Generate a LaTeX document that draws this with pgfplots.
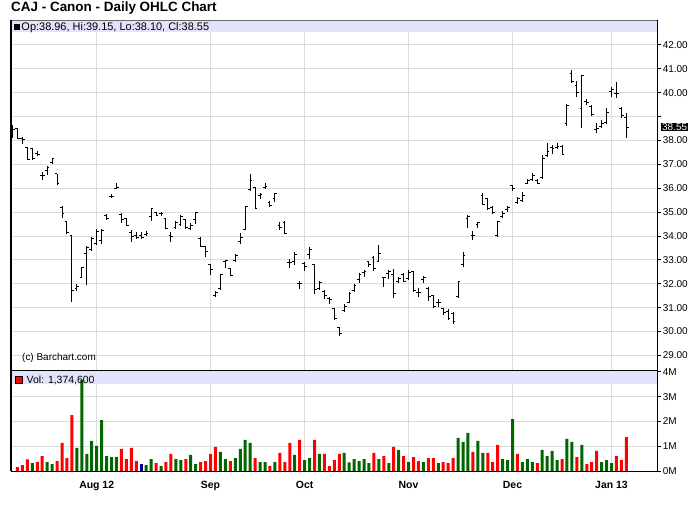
\documentclass[border=0pt]{standalone}
\usepackage{pgfplots}
\pgfplotsset{compat=1.18}
\usepackage{pgfplotstable}
\usepackage{fontspec}
\setmainfont{Liberation Sans}
\definecolor{band}{RGB}{226,226,250}
\definecolor{gridc}{RGB}{220,220,220}
\definecolor{vred}{RGB}{255,0,0}
\definecolor{vgreen}{RGB}{0,102,0}
\definecolor{vnavy}{RGB}{0,0,128}
\pgfdeclareplotmark{nothing}{}
\pgfdeclareplotmark{openL}{\pgfpathmoveto{\pgfqpoint{-2.3bp}{0pt}}\pgfpathlineto{\pgfqpoint{0pt}{0pt}}\pgfusepathqstroke}
\pgfdeclareplotmark{closeR}{\pgfpathmoveto{\pgfqpoint{0pt}{0pt}}\pgfpathlineto{\pgfqpoint{2.3bp}{0pt}}\pgfusepathqstroke}
\pgfplotstableread{
i o h l c
-17 38.62 38.64 38.09 38.47
-16 38.48 38.50 38.05 38.08
-15 38.10 38.16 37.87 38.02
-14 37.70 37.74 37.20 37.21
-13 37.67 37.70 37.20 37.24
-12 37.45 37.54 37.33 37.43
-11 36.55 36.68 36.36 36.52
-10 36.73 36.94 36.57 36.87
-9 37.07 37.28 37.03 37.24
-8 36.60 36.61 36.15 36.18
-7 35.20 35.27 34.74 34.95
-6 34.60 34.63 34.10 34.15
-5 34.00 34.03 31.25 31.70
-4 31.80 31.97 31.71 31.88
-3 32.25 32.72 32.22 32.68
-2 33.25 33.59 31.96 33.50
-1 33.45 33.97 33.38 33.90
0 33.70 34.29 33.63 34.20
1 33.80 34.29 33.67 34.25
2 34.87 34.91 34.68 34.72
3 35.65 35.75 35.57 35.67
4 36.00 36.21 35.95 36.05
5 34.90 34.98 34.56 34.70
6 34.73 34.76 34.40 34.45
7 34.15 34.26 33.76 33.98
8 34.00 34.17 33.89 33.95
9 34.02 34.17 33.89 33.95
10 34.05 34.22 33.98 34.10
11 34.82 35.16 34.63 35.15
12 35.00 35.02 34.82 34.87
13 34.95 35.00 34.82 34.95
14 34.75 34.77 34.29 34.31
15 34.00 34.15 33.76 33.98
16 34.35 34.63 34.29 34.56
17 34.50 34.87 34.43 34.82
18 34.68 34.70 34.31 34.36
19 34.30 34.54 34.26 34.45
20 34.70 35.02 34.52 35.00
21 33.90 33.94 33.52 33.55
22 33.55 33.59 33.14 33.34
23 32.80 32.82 32.37 32.60
24 31.50 31.71 31.43 31.64
25 31.80 32.40 31.75 32.38
26 32.92 32.99 32.68 32.96
27 32.65 32.68 32.31 32.33
28 32.96 33.24 32.89 33.17
29 33.76 34.11 33.67 33.95
30 34.29 35.26 34.25 35.23
31 35.93 36.60 35.88 36.32
32 36.04 36.04 35.12 35.16
33 35.70 35.81 35.56 35.72
34 36.05 36.21 35.95 36.08
35 35.41 35.48 35.20 35.26
36 35.58 35.81 35.44 35.76
37 34.42 34.57 34.25 34.36
38 34.56 34.63 34.07 34.11
39 32.90 33.05 32.68 32.90
40 32.93 33.31 32.77 33.22
41 32.02 32.13 31.79 32.02
42 32.86 32.93 32.54 32.72
43 33.21 33.55 33.05 33.44
44 32.79 32.79 31.56 31.77
45 31.81 32.12 31.72 32.07
46 31.67 31.74 31.37 31.50
47 31.39 31.46 31.14 31.33
48 30.95 30.99 30.49 30.53
49 30.15 30.20 29.82 29.90
50 30.90 31.14 30.81 31.04
51 31.22 31.67 31.18 31.60
52 31.70 31.99 31.67 31.91
53 32.16 32.47 32.05 32.40
54 32.48 32.58 32.30 32.51
55 32.93 32.97 32.69 32.79
56 33.10 33.18 32.54 32.62
57 32.93 33.62 32.90 33.28
58 32.26 32.30 31.88 32.25
59 32.44 32.58 32.20 32.51
60 32.40 32.62 31.39 31.60
61 32.10 32.30 32.02 32.20
62 32.37 32.44 32.06 32.10
63 32.20 32.58 32.16 32.45
64 32.50 32.51 31.67 31.70
65 31.64 31.81 31.46 31.62
66 32.16 32.33 32.05 32.26
67 31.81 31.85 31.28 31.46
68 31.49 31.53 31.00 31.04
69 31.22 31.35 31.04 31.22
70 30.95 31.00 30.69 30.81
71 30.83 30.93 30.48 30.55
72 30.76 30.83 30.32 30.41
73 31.46 32.12 31.42 32.09
74 32.79 33.32 32.72 33.20
75 34.74 34.88 34.35 34.81
76 34.04 34.22 33.83 34.04
77 34.46 34.57 34.35 34.56
78 35.71 35.78 35.30 35.32
79 35.58 35.60 35.09 35.16
80 35.18 35.25 34.90 34.99
81 34.00 34.63 33.97 34.60
82 34.81 35.06 34.74 34.95
83 35.09 35.27 35.02 35.18
84 36.10 36.13 35.90 35.97
85 35.41 35.64 35.34 35.58
86 35.50 35.83 35.41 35.71
87 36.20 36.38 36.16 36.34
88 36.37 36.62 36.32 36.55
89 36.32 36.37 36.16 36.20
90 36.44 37.39 36.37 37.25
91 37.35 37.88 37.32 37.55
92 37.70 37.81 37.43 37.68
93 37.71 37.88 37.63 37.76
94 37.76 37.81 37.39 37.43
95 38.71 39.51 38.62 39.48
96 40.81 40.95 40.42 40.46
97 40.30 40.50 39.80 40.00
98 39.34 40.74 38.53 40.70
99 39.62 39.72 39.48 39.58
100 39.41 39.48 39.02 39.10
101 38.46 38.74 38.30 38.50
102 38.57 38.85 38.50 38.71
103 38.74 39.34 38.67 39.16
104 40.04 40.22 39.83 40.14
105 39.97 40.43 39.76 39.97
106 39.34 39.41 38.96 39.06
107 38.96 39.15 38.10 38.55
}\ohlc
\begin{document}
\begin{tikzpicture}[x=1bp,y=1bp]
\path (0,0) rectangle (700,512);
\node[anchor=base west, inner sep=0pt, font=\fontsize{13.5}{15}\selectfont\bfseries] at (11,500.6) {CAJ - Canon - Daily OHLC Chart};
% ---------------- price panel
\begin{axis}[
  at={(11bp,141.3bp)}, anchor=south west, scale only axis,
  width=646.3bp, height=350.4bp,
  xmin=-17.31, xmax=113.25, ymin=28.36, ymax=43.03,
  clip=false,
  axis line style={draw=none},
  xtick={0,23,42,63,84,104}, xticklabels={},
  xtick style={draw=none},
  ytick={29,30,31,32,33,34,35,36,37,38,39,40,41,42},
  yticklabels={29.00,30.00,31.00,32.00,33.00,34.00,35.00,36.00,37.00,38.00,,40.00,41.00,42.00},
  ytick pos=right, yticklabel pos=right, tick align=outside,
  major tick length=4bp,
  ytick style={black, line width=0.8bp},
  yticklabel style={font=\fontsize{10}{12}\selectfont, anchor=west, xshift=-2bp},
  xmajorgrids, ymajorgrids,
  grid style={gridc, line width=0.9bp},
]
\fill[band] (rel axis cs:0,0.9652) rectangle (rel axis cs:1,1);
\addplot[only marks, mark=nothing, black, line width=1bp,
  error bars/.cd, y dir=both, y explicit, error mark=none,
  error bar style={draw=black, line width=1bp}]
  table[x=i, y expr={(\thisrow{h}+\thisrow{l})/2},
        y error plus expr={(\thisrow{h}-\thisrow{l})/2},
        y error minus expr={(\thisrow{h}-\thisrow{l})/2}] {\ohlc};
\addplot[only marks, mark=openL, mark options={draw=black, line width=1bp}] table[x=i, y=o] {\ohlc};
\addplot[only marks, mark=closeR, mark options={draw=black, line width=1bp}] table[x=i, y=c] {\ohlc};
\draw[gray!80!black, line width=0.6bp] (rel axis cs:0,1) -- (rel axis cs:1,1);
\draw[black, line width=1.3bp] (rel axis cs:0,0) -- (rel axis cs:0,1);
\draw[black, line width=1bp] (rel axis cs:1,0) -- (rel axis cs:1,1);
\draw[black, line width=2bp] (rel axis cs:0,0) -- (rel axis cs:1,0);
\end{axis}
% legend of price panel
\fill[black] (13.5,481.5) rectangle (19.8,488);
\node[anchor=base west, inner sep=0pt, font=\fontsize{11}{13}\selectfont] at (21.3,481.6) {Op:38.96, Hi:39.15, Lo:38.10, Cl:38.55};
\node[anchor=base west, inner sep=0pt, font=\fontsize{10}{12}\selectfont] at (22,151.8) {(c) Barchart.com};
\node[anchor=west, fill=black, text=white, inner xsep=0.8bp, inner ysep=0.6bp, font=\fontsize{10}{12}\selectfont] at (661.2,384.8) {38.55};
% ---------------- volume panel
\begin{axis}[
  at={(11bp,40.7bp)}, anchor=south west, scale only axis,
  width=646.3bp, height=100.6bp,
  xmin=-17.31, xmax=113.25, ymin=0, ymax=4.04,
  clip=false,
  axis line style={draw=none},
  xtick={0,23,42,63,84,104},
  xticklabels={Aug 12,Sep,Oct,Nov,Dec,Jan 13},
  xtick style={draw=none},
  xticklabel style={font=\fontsize{10.5}{12}\selectfont\bfseries, yshift=-2bp},
  ytick={0,1,2,3,4}, yticklabels={0M,1M,2M,3M,4M},
  ytick pos=right, yticklabel pos=right, tick align=outside,
  major tick length=4bp,
  ytick style={black, line width=0.8bp},
  yticklabel style={font=\fontsize{10}{12}\selectfont, anchor=west, xshift=-2bp},
  xmajorgrids, ymajorgrids,
  grid style={gridc, line width=0.9bp},
]
\fill[band] (rel axis cs:0,0.8678) rectangle (rel axis cs:1,1);
\addplot[ybar, bar width=3bp, bar shift=0pt, fill=vred, draw=none] coordinates {
(-16,0.17) (-15,0.25) (-14,0.48) (-12,0.37) (-11,0.61) (-8,0.41) (-7,1.14) (-6,0.53) (-5,2.26)
(5,0.90) (6,0.49) (7,0.94) (8,0.41) (12,0.33) (14,0.37) (15,0.70) (18,0.49) (21,0.37) (22,0.41)
(23,0.70) (24,0.98) (27,0.41) (32,0.53) (35,0.21) (37,0.74) (38,0.37) (39,1.14) (41,1.26) (44,1.26)
(46,0.70) (47,0.21) (48,0.45) (49,0.70) (56,0.74) (58,0.61) (60,0.98) (62,0.61) (64,0.57) (65,0.41)
(67,0.53) (68,0.53) (70,0.37) (71,0.33) (72,0.53) (76,0.78) (79,0.74) (80,0.37) (81,1.06) (85,0.70)
(89,0.33) (94,0.49) (97,0.57) (99,0.29) (100,0.37) (101,0.82) (105,0.61) (106,0.45) (107,1.3746)};
\addplot[ybar, bar width=3bp, bar shift=0pt, fill=vgreen, draw=none] coordinates {
(-13,0.33) (-10,0.37) (-9,0.29) (-4,0.94) (-3,3.66) (-2,0.70) (-1,1.22) (0,1.02) (1,2.06) (2,0.61)
(3,0.57) (4,0.57) (10,0.25) (11,0.49) (13,0.21) (16,0.49) (17,0.45) (19,0.66) (20,0.29) (25,0.78)
(26,0.49) (28,0.53) (29,0.90) (30,1.26) (31,1.14) (33,0.37) (34,0.37) (36,0.37) (40,0.66) (42,0.45)
(43,0.53) (45,0.70) (50,0.74) (51,0.36) (52,0.49) (53,0.41) (54,0.49) (55,0.33) (57,0.49) (59,0.33)
(61,0.86) (63,0.37) (66,0.37) (69,0.33) (73,1.34) (74,1.18) (75,1.54) (77,1.22) (78,0.74) (82,0.49)
(83,0.45) (84,2.10) (86,0.37) (87,0.49) (88,0.37) (90,0.86) (91,0.61) (92,0.82) (93,0.45) (95,1.30)
(96,1.18) (98,1.06) (102,0.37) (103,0.45) (104,0.33)};
\addplot[ybar, bar width=3bp, bar shift=0pt, fill=vnavy, draw=none] coordinates {(9,0.29)};
\draw[black, line width=1.3bp] (rel axis cs:0,0) -- (rel axis cs:0,1);
\draw[black, line width=1bp] (rel axis cs:1,0) -- (rel axis cs:1,1);
\draw[black, line width=1.5bp] (rel axis cs:0,0) -- (rel axis cs:1,0);
\end{axis}
\draw[black, line width=0.5bp, fill=vred] (15.2,128.8) rectangle (22.4,136);
\node[anchor=base west, inner sep=0pt, font=\fontsize{10.5}{12}\selectfont] at (26.5,128.8) {Vol: 1,374,600};
\end{tikzpicture}
\end{document}
